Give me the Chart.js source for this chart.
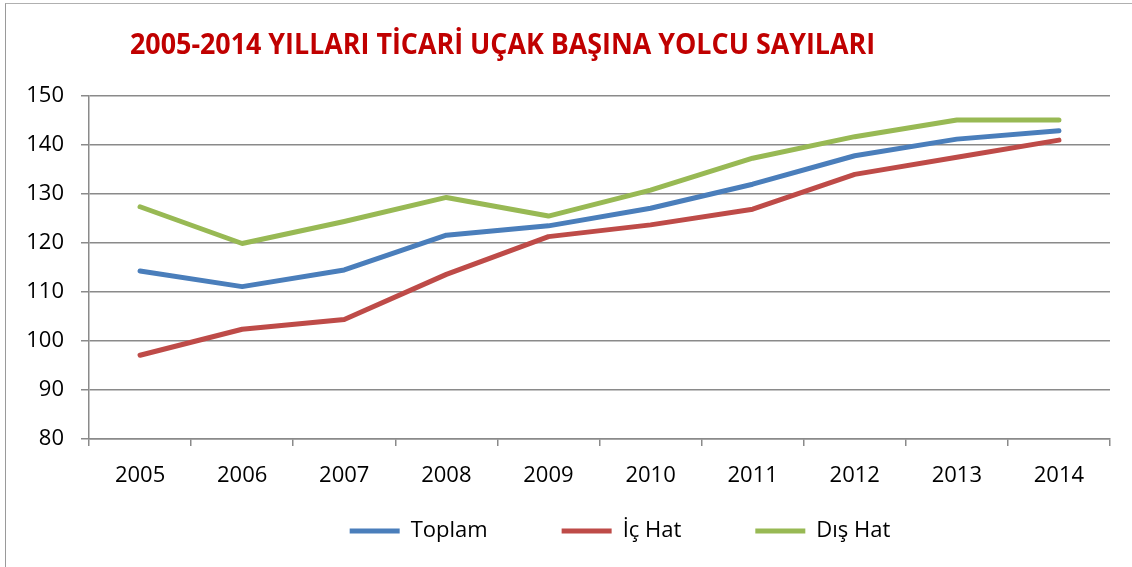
<!DOCTYPE html>
<html>
<head>
<meta charset="utf-8">
<script src="https://cdn.jsdelivr.net/npm/chart.js@4.4.1/dist/chart.umd.min.js"></script>
<style>
  html, body { margin: 0; padding: 0; background: #fff; }
  #wrap { position: relative; width: 1132px; height: 567px; overflow: hidden; }
  #frame { position: absolute; left: 5px; top: 3px; width: 1200px; height: 600px;
           border-left: 1.5px solid #9a9a9a; border-top: 1.5px solid #b0b0b0; box-sizing: border-box; }
  #title { position: absolute; left: 130px; top: 28px; margin: 0;
           font-family: "Open Sans", sans-serif; font-weight: 700; font-size: 29px; line-height: 29px;
           color: #C00000; white-space: nowrap; transform-origin: 0 0; }
  canvas { position: absolute; left: 0; top: 0; }
</style>
</head>
<body>
<div id="wrap">
  <div id="frame"></div>
  <canvas id="c" width="1132" height="567"></canvas>
  <div id="title">2005-2014 YILLARI TİCARİ UÇAK BAŞINA YOLCU SAYILARI</div>
</div>
<script>
const years = ['2005','2006','2007','2008','2009','2010','2011','2012','2013','2014'];
const seriesNames = ['Toplam', 'İç Hat', 'Dış Hat'];
const toplam = [114.3, 111.1, 114.5, 121.6, 123.5, 127.1, 132.0, 137.8, 141.2, 142.9];
const icHat  = [97.1, 102.4, 104.4, 113.6, 121.3, 123.7, 126.9, 134.0, 137.5, 141.0];
const disHat = [127.4, 119.9, 124.4, 129.3, 125.5, 130.8, 137.3, 141.7, 145.1, 145.1];
const yMin = 80, yMax = 150, yStep = 10;

// fit title width to the reference
const TITLE_WIDTH = 745;
const t = document.getElementById('title');
t.style.transform = 'scaleX(' + (TITLE_WIDTH / t.scrollWidth) + ')';

const FONT = "'Open Sans', sans-serif";
const gridColor = '#8a8a8a';
const LEGEND_ROW_CENTER = 531;
const LEGEND_SHIFT = 65;

const legendPlacement = {
  id: 'legendPlacement',
  afterLayout(chart) {
    const lg = chart.legend;
    const P = lg.options.labels.padding;
    const fs = lg.options.labels.font.size;
    const top = LEGEND_ROW_CENTER - fs / 2 - P;
    lg.top = top;
    lg.bottom = LEGEND_ROW_CENTER + fs;
    lg.height = lg.bottom - lg.top;
    lg.left += LEGEND_SHIFT; lg.right += LEGEND_SHIFT;
  }
};

function ds(label, data, color) {
  return {
    label, data,
    borderColor: color, backgroundColor: color,
    borderWidth: 5, borderCapStyle: 'round', borderJoinStyle: 'round',
    pointRadius: 0, pointHoverRadius: 0, tension: 0, fill: false
  };
}

new Chart(document.getElementById('c'), {
  type: 'line',
  data: {
    labels: years,
    datasets: [
      ds(seriesNames[0], toplam, '#4A7EBB'),
      ds(seriesNames[1], icHat, '#BE4B48'),
      ds(seriesNames[2], disHat, '#98B954')
    ]
  },
  options: {
    responsive: false,
    animation: false,
    layout: { padding: { top: 96, right: 22, bottom: 28, left: 0 } },
    plugins: {
      title: { display: false },
      tooltip: { enabled: false },
      legend: {
        position: 'bottom',
        maxHeight: 40,
        labels: {
          usePointStyle: true, pointStyle: 'line', pointStyleWidth: 50,
          padding: 74, color: '#000',
          font: { family: FONT, size: 22 }
        }
      }
    },
    scales: {
      x: {
        offset: true,
        grid: { offset: true, drawOnChartArea: false, drawTicks: true, tickLength: 7, color: gridColor, lineWidth: 1.5 },
        border: { color: gridColor, width: 1.5 },
        ticks: { color: '#000', font: { family: FONT, size: 22 }, padding: 17, maxRotation: 0 },
        afterFit(s) { s.height = 60; }
      },
      y: {
        min: yMin, max: yMax,
        grid: { drawTicks: true, tickLength: 8, color: gridColor, lineWidth: 1.5 },
        border: { color: gridColor, width: 1.5 },
        ticks: { stepSize: yStep, color: '#000', font: { family: FONT, size: 22 }, padding: 17 },
        afterFit(s) { s.width = 89; }
      }
    }
  },
  plugins: [legendPlacement]
});
</script>
</body>
</html>
